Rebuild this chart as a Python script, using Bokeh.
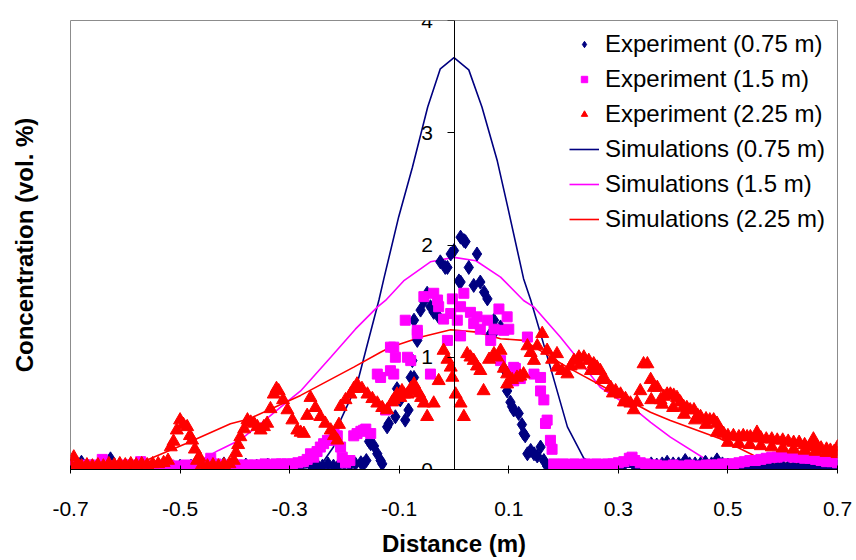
from bokeh.plotting import figure
from bokeh.models import (Range1d, FixedTicker, Legend, LegendItem, LinearAxis)
from bokeh.embed import file_html
from bokeh.resources import INLINE

# ---------------- data ----------------
x_ticks = [-0.7, -0.5, -0.3, -0.1, 0.1, 0.3, 0.5, 0.7]
x_tick_labels = ["-0.7", "-0.5", "-0.3", "-0.1", "0.1", "0.3", "0.5", "0.7"]
y_ticks = [0, 1, 2, 3, 4]
y_tick_labels = ["0", "1", "2", "3", "4"]

series_names = ["Experiment (0.75 m)", "Experiment (1.5 m)", "Experiment (2.25 m)",
                "Simulations (0.75 m)", "Simulations (1.5 m)", "Simulations (2.25 m)"]

# Experiment 0.75 m
e075_x = [-0.700, -0.680, -0.660, -0.640, -0.627, -0.620, -0.600, -0.580, -0.560, -0.540, -0.520, -0.500,
          -0.480, -0.460, -0.440, -0.420, -0.400, -0.380, -0.360, -0.340, -0.320, -0.300, -0.280,
          -0.260, -0.250, -0.240, -0.230, -0.220, -0.210, -0.200, -0.190, -0.180, -0.170, -0.165, -0.160,
          -0.155, -0.152, -0.146, -0.140, -0.134, -0.131,
          -0.122, -0.119, -0.107, -0.104, -0.098, -0.089, -0.083, -0.079, -0.076, -0.073, -0.073, -0.067,
          -0.061, -0.055, -0.049, -0.043, -0.037, -0.028, -0.025, -0.016, -0.012, -0.006, 0.000, 0.009,
          0.012, 0.012, 0.018, 0.021, 0.027, 0.036, 0.042, 0.048, 0.055, 0.061, 0.067, 0.073, 0.076,
          0.085, 0.091, 0.097, 0.103, 0.106, 0.109, 0.118, 0.124, 0.127, 0.130, 0.134, 0.140, 0.146,
          0.152, 0.158, 0.164, 0.170, 0.176,
          0.180, 0.190, 0.200, 0.210, 0.220, 0.230, 0.240, 0.250, 0.260, 0.270, 0.280, 0.290, 0.300,
          0.310, 0.322, 0.330, 0.340, 0.350, 0.360, 0.370, 0.380, 0.389, 0.400, 0.410, 0.422, 0.430,
          0.440, 0.450, 0.459, 0.470, 0.480, 0.490, 0.500, 0.510, 0.520, 0.530, 0.540, 0.550, 0.560,
          0.570, 0.580, 0.590, 0.600, 0.610, 0.620, 0.630, 0.640, 0.650, 0.660, 0.670, 0.680, 0.690, 0.700]
e075_y = [0.03, 0.065, 0.03, 0.04, 0.095, 0.03, 0.03, 0.04, 0.03, 0.03, 0.04, 0.03,
          0.03, 0.04, 0.03, 0.05, 0.03, 0.04, 0.03, 0.04, 0.03, 0.03, 0.04,
          0.03, 0.04, 0.03, 0.05, 0.03, 0.04, 0.05, 0.04, 0.05, 0.06, 0.05, 0.08,
          0.25, 0.23, 0.21, 0.14, 0.08, 0.05,
          0.38, 0.41, 0.47, 0.72, 0.62, 0.44, 0.53, 0.82, 0.97, 1.33, 0.82, 1.15,
          1.42, 1.50, 1.57, 1.45, 1.40, 1.36, 1.85, 1.80, 1.80, 1.92, 1.95, 1.68,
          2.07, 1.67, 2.04, 2.03, 1.80, 1.64, 1.92, 1.67, 1.58, 1.52, 1.21, 1.33, 1.24,
          1.27, 0.90, 0.70, 0.60, 0.56, 0.53, 0.50, 0.40, 0.32, 0.30, 0.14, 0.17, 0.14,
          0.12, 0.20, 0.08, 0.03, 0.02,
          0.03, 0.03, 0.02, 0.03, 0.02, 0.03, 0.03, 0.02, 0.03, 0.03, 0.02, 0.03, 0.03,
          0.04, 0.08, 0.03, 0.04, 0.03, 0.05, 0.04, 0.05, 0.065, 0.05, 0.05, 0.08, 0.05,
          0.05, 0.05, 0.065, 0.05, 0.086, 0.05, 0.04, 0.03, 0.02, 0.02, 0.02, 0.02, 0.02,
          0.02, 0.02, 0.02, 0.03, 0.02, 0.02, 0.02, 0.03, 0.02, 0.02, 0.02, 0.02, 0.02, 0.02]

# Experiment 1.5 m
e15_x = [-0.700, -0.690, -0.680, -0.670, -0.660, -0.650, -0.642, -0.630, -0.620, -0.610, -0.600, -0.590,
         -0.580, -0.572, -0.560, -0.550, -0.540, -0.530, -0.520, -0.510, -0.500, -0.490, -0.480, -0.470,
         -0.460, -0.450, -0.444, -0.435, -0.425, -0.415, -0.405, -0.395, -0.385, -0.375, -0.365, -0.355,
         -0.345, -0.335, -0.325, -0.315, -0.305, -0.295, -0.285, -0.275, -0.268, -0.262, -0.256, -0.250,
         -0.244, -0.238, -0.231, -0.225, -0.219, -0.213, -0.207, -0.204, -0.198, -0.190, -0.183, -0.177,
         -0.170, -0.165, -0.161, -0.152,
         -0.140, -0.134, -0.125, -0.116, -0.116, -0.110, -0.107, -0.110, -0.089, -0.085, -0.079, -0.067,
         -0.067, -0.055, -0.043, -0.037, -0.030, -0.028, -0.019, -0.012, -0.006, -0.003, 0.006, 0.012,
         0.012, 0.018, 0.030, 0.036, 0.042, 0.048, 0.061, 0.067, 0.073, 0.082, 0.085, 0.091, 0.097,
         0.100, 0.109, 0.109, 0.112, 0.121, 0.134, 0.146, 0.158, 0.158, 0.164, 0.167, 0.170, 0.176,
         0.179, 0.182,
         0.190, 0.200, 0.210, 0.220, 0.230, 0.240, 0.250, 0.260, 0.270, 0.280, 0.290, 0.300, 0.310,
         0.320, 0.325, 0.330, 0.340, 0.350, 0.360, 0.370, 0.380, 0.390, 0.400, 0.410, 0.420, 0.430,
         0.440, 0.450, 0.460, 0.470, 0.480, 0.490, 0.500, 0.510, 0.520, 0.530, 0.540, 0.550, 0.560,
         0.570, 0.580, 0.590, 0.600, 0.610, 0.620, 0.630, 0.640, 0.650, 0.660, 0.670, 0.680, 0.690, 0.700]
e15_y = [0.03, 0.03, 0.03, 0.04, 0.04, 0.03, 0.09, 0.03, 0.03, 0.03, 0.04, 0.04,
         0.03, 0.07, 0.03, 0.03, 0.03, 0.04, 0.04, 0.03, 0.03, 0.04, 0.03, 0.04,
         0.04, 0.05, 0.10, 0.05, 0.04, 0.04, 0.03, 0.04, 0.04, 0.04, 0.04, 0.04,
         0.05, 0.04, 0.05, 0.05, 0.05, 0.05, 0.06, 0.07, 0.09, 0.14, 0.11, 0.16,
         0.20, 0.23, 0.26, 0.26, 0.32, 0.30, 0.20, 0.11, 0.06, 0.08, 0.30, 0.32,
         0.34, 0.35, 0.36, 0.32,
         0.85, 0.82, 0.53, 0.88, 1.09, 0.85, 1.00, 1.09, 1.33, 1.00, 0.97, 1.24,
         1.21, 1.54, 0.85, 1.57, 1.51, 1.45, 1.34, 1.15, 1.39, 1.52, 1.33, 1.45,
         1.19, 1.57, 1.40, 1.30, 1.36, 1.25, 1.33, 1.15, 1.25, 1.43, 0.97, 1.24, 1.36,
         1.25, 0.91, 0.79, 0.90, 0.81, 1.18, 0.85, 0.82, 0.70, 0.62, 0.41, 0.44, 0.26,
         0.18, 0.05,
         0.04, 0.05, 0.04, 0.05, 0.04, 0.05, 0.04, 0.05, 0.04, 0.05, 0.05, 0.06, 0.07,
         0.10, 0.11, 0.08, 0.06, 0.05, 0.04, 0.04, 0.03, 0.03, 0.04, 0.03, 0.03, 0.04,
         0.03, 0.03, 0.04, 0.04, 0.04, 0.05, 0.05, 0.05, 0.06, 0.07, 0.08, 0.08, 0.09,
         0.10, 0.11, 0.11, 0.12, 0.12, 0.11, 0.11, 0.10, 0.10, 0.09, 0.08, 0.07, 0.07, 0.06]

# Experiment 2.25 m
e225_x = [-0.700, -0.694, -0.688, -0.680, -0.670, -0.660, -0.650, -0.640, -0.630, -0.620, -0.610, -0.600,
          -0.590, -0.580, -0.570, -0.560, -0.550, -0.540, -0.530, -0.522,
          -0.517, -0.512, -0.506, -0.500, -0.494, -0.487, -0.482, -0.478, -0.473, -0.469, -0.465, -0.460,
          -0.450, -0.440, -0.430, -0.420, -0.410,
          -0.402, -0.398, -0.394, -0.390, -0.383, -0.377, -0.371, -0.365, -0.359, -0.353, -0.347, -0.341,
          -0.335, -0.329, -0.324, -0.320, -0.312, -0.304, -0.295, -0.286, -0.280, -0.274, -0.268, -0.262,
          -0.253, -0.244, -0.235, -0.225, -0.219, -0.213, -0.210, -0.207, -0.198, -0.189, -0.183, -0.177,
          -0.168, -0.158, -0.149, -0.140, -0.131, -0.122, -0.113, -0.110, -0.104, -0.098, -0.095, -0.091,
          -0.085, -0.079, -0.073, -0.070, -0.064, -0.060, -0.055, -0.049, -0.037, -0.028, -0.019, -0.012,
          -0.006, -0.003, 0.003, 0.012, 0.018, 0.024, 0.030, 0.036, 0.042, 0.048, 0.054, 0.064, 0.073,
          0.079, 0.085, 0.091, 0.097, 0.097, 0.106, 0.115, 0.121, 0.127, 0.134, 0.140, 0.146, 0.152,
          0.161, 0.170, 0.179, 0.188, 0.188, 0.197, 0.207, 0.213, 0.219, 0.228, 0.230, 0.237, 0.246,
          0.250, 0.255, 0.261, 0.267, 0.270, 0.276, 0.286, 0.290, 0.295, 0.304, 0.310, 0.313, 0.322,
          0.328, 0.334, 0.340, 0.346, 0.353, 0.359, 0.360, 0.365, 0.371, 0.377, 0.380, 0.383, 0.389,
          0.395, 0.400, 0.401, 0.407, 0.413, 0.419, 0.420, 0.425, 0.431, 0.438, 0.440, 0.445, 0.450,
          0.460, 0.460, 0.467, 0.474, 0.480, 0.480, 0.486, 0.492, 0.500, 0.500, 0.510, 0.520, 0.520,
          0.528, 0.535, 0.540, 0.541, 0.550, 0.553, 0.560, 0.560, 0.570, 0.580, 0.580, 0.590, 0.600,
          0.600, 0.610, 0.620, 0.620, 0.630, 0.640, 0.640, 0.650, 0.656, 0.657, 0.660, 0.663, 0.670,
          0.680, 0.680, 0.687, 0.694, 0.700, 0.700]
e225_y = [0.04, 0.11, 0.05, 0.03, 0.04, 0.03, 0.04, 0.03, 0.05, 0.04, 0.05, 0.04,
          0.05, 0.04, 0.05, 0.04, 0.05, 0.05, 0.06, 0.08,
          0.20, 0.25, 0.35, 0.44, 0.40, 0.38, 0.30, 0.26, 0.18, 0.08, 0.11, 0.04,
          0.03, 0.04, 0.03, 0.04, 0.05,
          0.08, 0.15, 0.22, 0.29, 0.36, 0.44, 0.42, 0.41, 0.38, 0.35, 0.38, 0.41,
          0.54, 0.67, 0.72, 0.70, 0.62, 0.53, 0.44, 0.35, 0.33, 0.32, 0.48, 0.64,
          0.55, 0.47, 0.41, 0.35, 0.30, 0.26, 0.40, 0.56, 0.62, 0.67, 0.72, 0.76,
          0.72, 0.67, 0.63, 0.59, 0.55, 0.53, 0.60, 0.62, 0.67, 0.64, 0.70, 0.67,
          0.67, 0.72, 0.76, 0.70, 0.68, 0.64, 0.59, 0.47, 0.59, 0.79, 1.06, 0.98,
          0.91, 0.82, 0.67, 0.59, 0.47, 1.03, 1.00, 0.97, 0.92, 0.88, 0.70, 0.98, 1.03,
          1.00, 1.06, 0.90, 0.85, 0.76, 0.80, 0.82, 0.83, 0.85, 1.10, 1.04, 0.97, 1.10,
          1.21, 1.06, 0.98, 0.91, 1.03, 0.88, 0.85, 0.92, 0.97, 1.00, 0.93, 1.00, 0.97,
          0.88, 0.94, 0.91, 0.88, 0.80, 0.80, 0.73, 0.68, 0.70, 0.67, 0.60, 0.63, 0.59,
          0.53, 0.60, 0.70, 0.94, 0.94, 0.80, 0.62, 0.73, 0.73, 0.62, 0.58, 0.65, 0.67,
          0.67, 0.55, 0.66, 0.64, 0.60, 0.56, 0.49, 0.55, 0.53, 0.53, 0.44, 0.48, 0.47,
          0.45, 0.40, 0.44, 0.44, 0.41, 0.33, 0.35, 0.32, 0.30, 0.24, 0.30, 0.29, 0.23,
          0.30, 0.29, 0.22, 0.29, 0.28, 0.33, 0.28, 0.21, 0.27, 0.27, 0.20, 0.26, 0.26,
          0.19, 0.25, 0.24, 0.18, 0.24, 0.22, 0.17, 0.21, 0.27, 0.20, 0.16, 0.20, 0.19,
          0.18, 0.15, 0.17, 0.16, 0.20, 0.14]

# Simulations
s075_x = [-0.70, -0.30, -0.26, -0.24, -0.22, -0.207, -0.19, -0.177, -0.16, -0.137, -0.128, -0.101,
          -0.076, -0.048, -0.025, 0.0, 0.027, 0.051, 0.079, 0.098, 0.127, 0.140, 0.176, 0.207, 0.237,
          0.26, 0.30, 0.70]
s075_y = [0.0, 0.0, 0.02, 0.06, 0.20, 0.44, 0.62, 0.76, 1.08, 1.51, 1.70, 2.25,
          2.69, 3.23, 3.57, 3.67, 3.56, 3.23, 2.75, 2.34, 1.70, 1.51, 0.91, 0.38, 0.10,
          0.03, 0.02, 0.02]

s15_x = [-0.70, -0.48, -0.463, -0.43, -0.39, -0.35, -0.3015, -0.28, -0.225, -0.18, -0.14, -0.125,
         -0.092, -0.043, 0.0, 0.040, 0.085, 0.127, 0.146, 0.194, 0.219, 0.267, 0.34, 0.359, 0.395,
         0.468, 0.48, 0.70]
s15_y = [0.0, 0.0, 0.08, 0.17, 0.265, 0.42, 0.615, 0.70, 1.0, 1.25, 1.447, 1.506,
         1.68, 1.85, 1.89, 1.86, 1.714, 1.506, 1.447, 1.18, 1.03, 0.733, 0.496, 0.42, 0.288,
         0.065, 0.02, 0.02]

s225_x = [-0.70, -0.60, -0.57, -0.49, -0.408, -0.3745, -0.28, -0.183, -0.134, -0.116, -0.06, -0.006,
          0.042, 0.085, 0.127, 0.2066, 0.3586, 0.395, 0.486, 0.541, 0.553, 0.58, 0.70]
s225_y = [0.04, 0.04, 0.065, 0.23, 0.407, 0.45, 0.66, 0.912, 1.045, 1.09, 1.18, 1.245,
          1.224, 1.165, 1.15, 0.912, 0.51, 0.437, 0.274, 0.14, 0.11, 0.06, 0.04]

y_title = "Concentration (vol. %)"
x_title = "Distance (m)"

# ---------------- figure ----------------
FONT = "Liberation Sans"
NAVY = "#000080"
MAGENTA = "#FF00FF"
RED = "#FF0000"

p = figure(width=856, height=560, x_range=Range1d(-0.7, 0.7), y_range=Range1d(0, 4),
           output_backend="svg", toolbar_location=None,
           min_border_left=70, min_border_right=19, min_border_top=20, min_border_bottom=91)
p.grid.visible = False
p.background_fill_color = "white"
p.border_fill_color = "white"
p.outline_line_color = "#8c8c8c"
p.outline_line_width = 1

# simulation lines first (they sit below the markers)
l075 = p.line(s075_x, s075_y, line_color=NAVY, line_width=1.6)
l15 = p.line(s15_x, s15_y, line_color=MAGENTA, line_width=1.6)
l225 = p.line(s225_x, s225_y, line_color=RED, line_width=1.6)

r075 = p.scatter(e075_x, e075_y, marker="diamond", size=14, fill_color=NAVY, line_color=NAVY)
r15 = p.scatter(e15_x, e15_y, marker="square", size=10, fill_color=MAGENTA, line_color=MAGENTA)
r225 = p.scatter(e225_x, e225_y, marker="triangle", size=13, fill_color=RED, line_color=RED)

# x axis
xa = p.xaxis[0]
xa.ticker = FixedTicker(ticks=x_ticks)
xa.major_label_overrides = dict(zip(x_ticks, x_tick_labels))
xa.minor_tick_line_color = None
xa.major_tick_in = 4
xa.major_tick_out = 4
xa.axis_line_color = "black"
xa.major_tick_line_color = "black"
xa.major_label_text_font = FONT
xa.major_label_text_font_size = "21px"
xa.major_label_text_color = "black"
xa.major_label_standoff = 28
xa.axis_label = x_title
xa.axis_label_text_font = FONT
xa.axis_label_text_font_size = "24px"
xa.axis_label_text_font_style = "bold"
xa.axis_label_text_color = "black"
xa.axis_label_standoff = 11

# y axis crossing at x = 0
ya = p.yaxis[0]
ya.fixed_location = 0
ya.ticker = FixedTicker(ticks=y_ticks)
ya.major_label_overrides = dict(zip(y_ticks, y_tick_labels))
ya.minor_tick_line_color = None
ya.major_tick_in = 0
ya.major_tick_out = 7
ya.axis_line_color = "black"
ya.major_tick_line_color = "black"
ya.major_label_text_font = FONT
ya.major_label_text_font_size = "21px"
ya.major_label_text_color = "black"
ya.major_label_standoff = 14

# outer left axis carrying only the y title (no line, no ticks)
ytitle_axis = LinearAxis(ticker=FixedTicker(ticks=[]), axis_label=y_title,
                         axis_line_color=None, major_tick_line_color=None,
                         minor_tick_line_color=None, major_tick_in=0, major_tick_out=0,
                         major_label_text_font_size="1px", major_label_standoff=0,
                         axis_label_standoff=33, axis_label_text_font=FONT,
                         axis_label_text_font_size="24px", axis_label_text_font_style="bold",
                         axis_label_text_color="black")
p.add_layout(ytitle_axis, "left")

legend = Legend(items=[
    LegendItem(label=series_names[0], renderers=[r075]),
    LegendItem(label=series_names[1], renderers=[r15]),
    LegendItem(label=series_names[2], renderers=[r225]),
    LegendItem(label=series_names[3], renderers=[l075]),
    LegendItem(label=series_names[4], renderers=[l15]),
    LegendItem(label=series_names[5], renderers=[l225]),
], location=(499, 236))
legend.label_text_font = FONT
legend.label_text_font_size = "24px"
legend.label_text_color = "black"
legend.glyph_width = 30
legend.glyph_height = 16
legend.label_height = 25
legend.label_standoff = 6
legend.spacing = 7
legend.padding = 0
legend.margin = 0
legend.border_line_color = None
legend.background_fill_alpha = 0
p.add_layout(legend, "center")

open("out.html", "w").write(file_html(p, INLINE))
